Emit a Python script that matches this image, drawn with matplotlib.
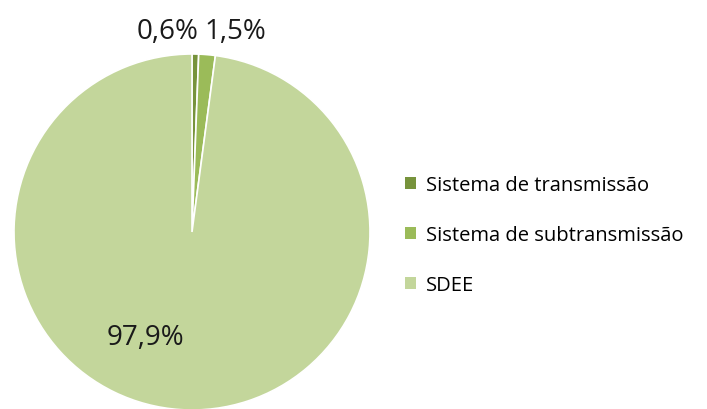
import matplotlib.pyplot as plt
from matplotlib.patches import Patch

plt.rcParams['font.family'] = ['Open Sans', 'DejaVu Sans']

categorias = ['Sistema de transmissão', 'Sistema de subtransmissão', 'SDEE']
valores = [0.6, 1.5, 97.9]
rotulos = ['0,6%', '1,5%', '97,9%']
cores = ['#77933C', '#9BBB59', '#C3D69B']

W, H = 707, 410
cx, cy, r = 192, 233, 178

fig = plt.figure(figsize=(W / 100, H / 100), dpi=100)
ax = fig.add_axes([(cx - r) / W, (H - cy - r) / H, 2 * r / W, 2 * r / H])

ax.pie(valores, colors=cores, startangle=90, counterclock=False, radius=1,
       wedgeprops=dict(edgecolor='white', linewidth=1.2))
ax.set_xlim(-1, 1)
ax.set_ylim(-1, 1)
ax.set_aspect('equal')
ax.axis('off')

# posicoes dos rotulos (coords de dados)
pos = [(-0.14, 1.13), (0.245, 1.13), (-0.26, -0.59)]
for (x, y), t in zip(pos, rotulos):
    ax.text(x, y, t, ha='center', va='center', fontsize=20, color='#1a1a1a',
            clip_on=False)

handles = [Patch(facecolor=c, edgecolor='none') for c in cores]
fig.legend(handles, categorias, loc='center left',
           bbox_to_anchor=(405 / W, (H - 236) / H), frameon=False,
           fontsize=14.5, handlelength=0.55, handleheight=0.55,
           handletextpad=0.5, labelspacing=1.5, borderaxespad=0,
           borderpad=0)

fig.savefig('out.png', dpi=100)
